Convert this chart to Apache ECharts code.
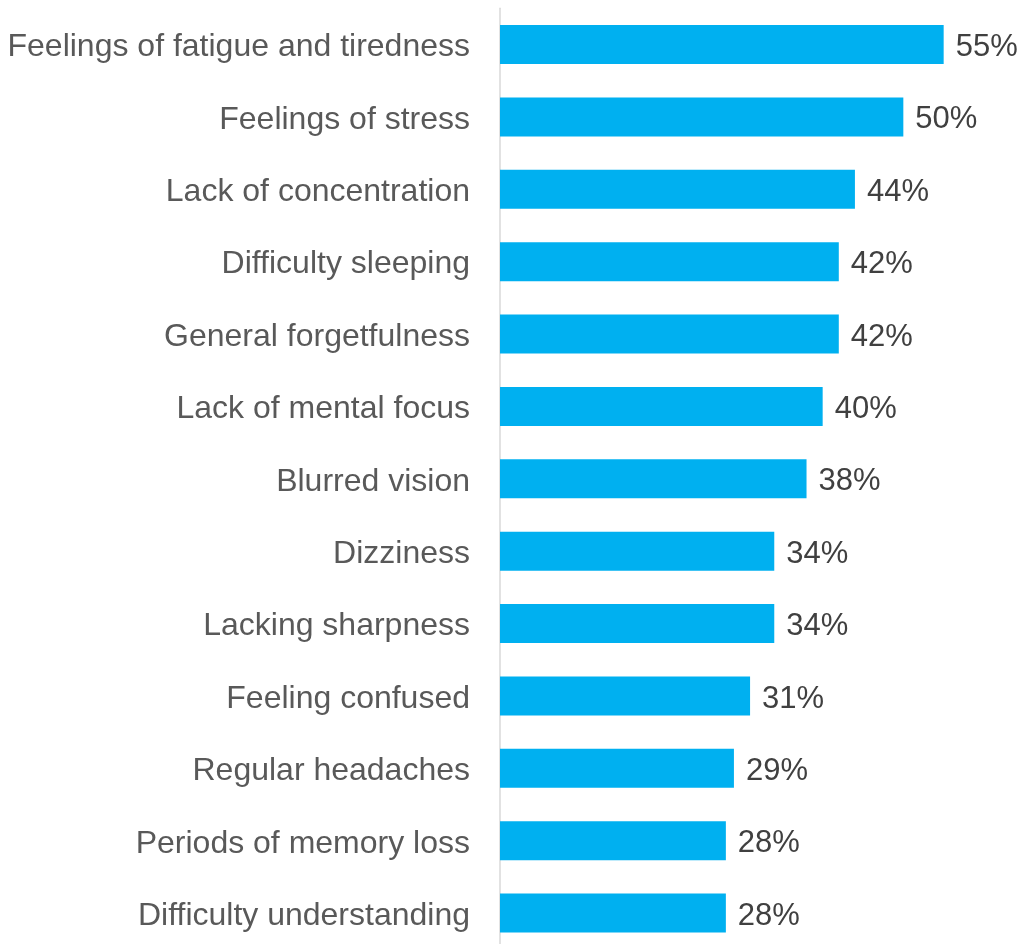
<!DOCTYPE html>
<html>
<head>
<meta charset="utf-8">
<script src="https://cdn.jsdelivr.net/npm/echarts@6/dist/echarts.min.js"></script>
<style>
  html, body { margin: 0; padding: 0; background: #ffffff; overflow: hidden; }
  #chart { width: 1022px; height: 952px; }
</style>
</head>
<body>
<div id="chart"></div>
<script>
// Symptoms, listed top to bottom
const symptoms = [
  'Feelings of fatigue and tiredness',
  'Feelings of stress',
  'Lack of concentration',
  'Difficulty sleeping',
  'General forgetfulness',
  'Lack of mental focus',
  'Blurred vision',
  'Dizziness',
  'Lacking sharpness',
  'Feeling confused',
  'Regular headaches',
  'Periods of memory loss',
  'Difficulty understanding'
];
// Share of respondents reporting each symptom (%)
const shares = [55, 50, 44, 42, 42, 40, 38, 34, 34, 31, 29, 28, 28];

const chart = echarts.init(document.getElementById('chart'));
chart.setOption({
  animation: false,
  // the plot area runs slightly past the bottom edge of the page
  grid: { left: 500, right: 38, top: 8.3, height: 941, containLabel: false },
  xAxis: {
    type: 'value',
    min: 0,
    max: 60,
    show: false
  },
  yAxis: {
    type: 'category',
    data: symptoms,
    inverse: true,
    axisLine: { show: true, lineStyle: { color: '#d9d9d9', width: 1.5 } },
    axisTick: { show: false },
    axisLabel: {
      margin: 30,
      formatter: '{t|{value}}',
      rich: {
        t: {
          color: '#595959',
          fontFamily: 'Liberation Sans, Arial, sans-serif',
          fontSize: 32,
          padding: [6, 0, 0, 0]
        }
      }
    }
  },
  series: [{
    type: 'bar',
    data: shares,
    barWidth: 39,
    itemStyle: { color: '#00b0f0' },
    label: {
      show: true,
      position: 'right',
      distance: 12,
      offset: [0, 3],
      formatter: '{c}%',
      color: '#404040',
      fontFamily: 'Liberation Sans, Arial, sans-serif',
      fontSize: 31
    }
  }]
});
</script>
</body>
</html>
